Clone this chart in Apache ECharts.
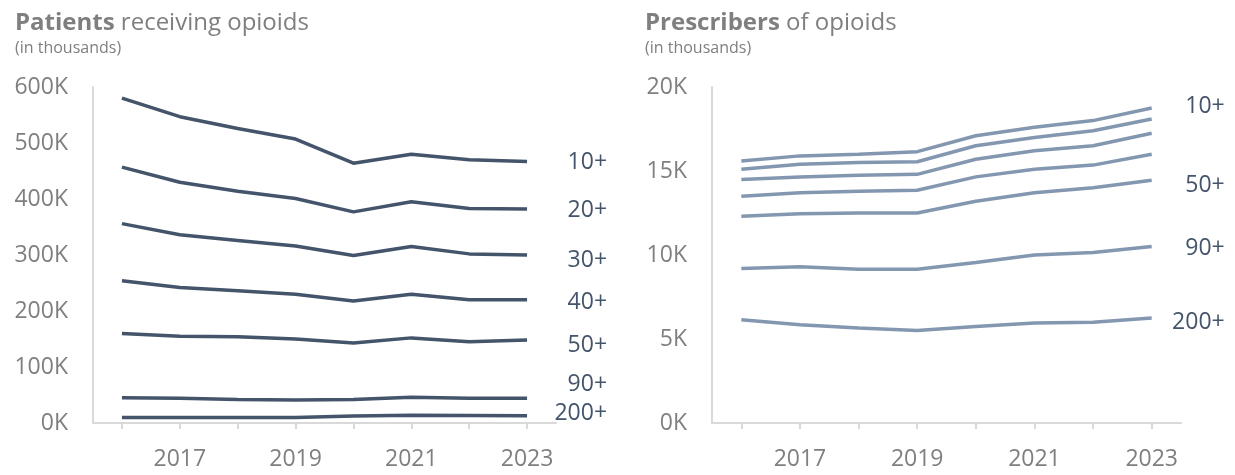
<!DOCTYPE html>
<html>
<head>
<meta charset="utf-8">
<script src="https://cdn.jsdelivr.net/npm/echarts@6/dist/echarts.min.js"></script>
<style>
html,body{margin:0;padding:0;background:#fff;}
#chart{width:1235px;height:475px;}
</style>
</head>
<body>
<div id="chart"></div>
<script>
// Categories
const years = ['2016','2017','2018','2019','2020','2021','2022','2023'];

// Patients receiving opioids (thousands) by threshold
const patients10  = [580, 547, 526, 507, 464, 480, 470, 467];
const patients20  = [457, 430, 414, 401, 377, 395, 383, 382];
const patients30  = [356, 336, 326, 316, 299, 315, 302, 300];
const patients40  = [254, 242, 236, 230, 218, 230, 220, 220];
const patients50  = [160, 155, 154, 150, 143, 152, 145, 148];
const patients90  = [45, 44, 42, 41, 42, 46, 44, 44];
const patients200 = [10, 10, 10, 10, 12.5, 14, 13.5, 13];

// Prescribers of opioids (thousands) by threshold
const prescribers10  = [15.6, 15.9, 16.0, 16.15, 17.1, 17.6, 18.0, 18.75];
const prescribers20  = [15.1, 15.4, 15.5, 15.55, 16.5, 17.0, 17.4, 18.1];
const prescribers30  = [14.5, 14.65, 14.75, 14.8, 15.7, 16.2, 16.5, 17.25];
const prescribers40  = [13.5, 13.7, 13.8, 13.85, 14.65, 15.1, 15.35, 16.0];
const prescribers50  = [12.3, 12.45, 12.5, 12.5, 13.2, 13.7, 14.0, 14.45];
const prescribers90  = [9.2, 9.3, 9.15, 9.15, 9.55, 10.0, 10.15, 10.5];
const prescribers200 = [6.15, 5.85, 5.65, 5.5, 5.75, 5.95, 6.0, 6.25];

// Series names / end labels
const patientNames = ['10+','20+','30+','40+','50+','90+','200+'];
const prescriberNames = ['10+','20+','30+','40+','50+','90+','200+'];
const prescriberLabelled = ['10+','50+','90+','200+'];

const FONT = '"Open Sans", "Noto Sans", sans-serif';
const GRAY = '#7f7f7f';
const DARK = '#44546a';
const LIGHT = '#8497b0';
const AXIS = '#d9d9d9';

const patientData = [patients10, patients20, patients30, patients40, patients50, patients90, patients200];
const prescriberData = [prescribers10, prescribers20, prescribers30, prescribers40, prescribers50, prescribers90, prescribers200];

const leftLabelDy = [1, 1, 5, 3, 5, -14, -2];
const rightLabelDy = [-2, 0, 0, 0, 5, 2, 4];

function xAxis(gridIndex){
  return {
    type: 'category', gridIndex, data: years, boundaryGap: true,
    axisLine: {show: true, lineStyle: {color: AXIS, width: 2}},
    axisTick: {show: true, alignWithLabel: true, interval: 0, length: 6, lineStyle: {color: AXIS, width: 2}},
    axisLabel: {interval: function(i){ return i % 2 === 1; }, color: GRAY, fontSize: 23, fontFamily: FONT, margin: 25},
    splitLine: {show: false}
  };
}
function yAxis(gridIndex, max, interval){
  return {
    type: 'value', gridIndex, min: 0, max, interval,
    axisLine: {show: true, lineStyle: {color: AXIS, width: 2}},
    axisTick: {show: false},
    splitLine: {show: false},
    axisLabel: {color: GRAY, fontSize: 23, fontFamily: FONT, margin: 25, formatter: v => v + 'K'}
  };
}

const series = [];
patientData.forEach((d, i) => {
  series.push({
    type: 'line', name: 'P' + patientNames[i], xAxisIndex: 0, yAxisIndex: 0, data: d,
    symbol: 'none', lineStyle: {color: DARK, width: 3.5}, itemStyle: {color: DARK},
    endLabel: {show: true, formatter: patientNames[i], color: DARK, fontSize: 23, fontFamily: FONT,
      align: 'right', offset: [72, leftLabelDy[i]]}
  });
});
prescriberData.forEach((d, i) => {
  const show = prescriberLabelled.indexOf(prescriberNames[i]) >= 0;
  series.push({
    type: 'line', name: 'R' + prescriberNames[i], xAxisIndex: 1, yAxisIndex: 1, data: d,
    symbol: 'none', lineStyle: {color: LIGHT, width: 3.5}, itemStyle: {color: LIGHT},
    endLabel: {show: show, formatter: prescriberNames[i], color: DARK, fontSize: 23, fontFamily: FONT,
      align: 'right', offset: [65, rightLabelDy[i]]}
  });
});

function title(bold, rest, left){
  return {text: '{b|' + bold + '}' + rest, left, top: 11, itemGap: 5, padding: 0,
    textStyle: {fontSize: 24, fontWeight: 'normal', color: GRAY, fontFamily: FONT,
      rich: {b: {fontSize: 24, fontWeight: 'bold', color: GRAY, fontFamily: FONT}}},
    subtext: '(in thousands)', subtextStyle: {fontSize: 16, color: GRAY, fontFamily: FONT}};
}

const chart = echarts.init(document.getElementById('chart'), null, {renderer: 'canvas'});
chart.setOption({
  animation: false,
  backgroundColor: '#fff',
  title: [
    title('Patients', ' receiving opioids', 15),
    title('Prescribers', ' of opioids', 645)
  ],
  grid: [
    {left: 93, top: 87, width: 463, height: 336},
    {left: 712, top: 87, width: 469, height: 336}
  ],
  xAxis: [xAxis(0), xAxis(1)],
  yAxis: [yAxis(0, 600, 100), yAxis(1, 20, 5)],
  series
});
</script>
</body>
</html>
